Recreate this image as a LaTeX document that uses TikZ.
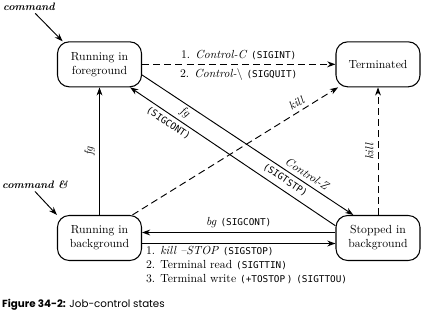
\documentclass[tikz,border=0pt]{standalone}
\usepackage{fontspec}
\setmonofont{DejaVu Sans Mono}[Scale=0.8]
\newfontfamily\capfont{Poppins}
\usetikzlibrary{arrows.meta}

\newcommand{\sig}[1]{\texttt{(#1)}}

\begin{document}
\begin{tikzpicture}[
  state/.style={
    draw, line width=0.9pt, rounded corners=10pt,
    minimum width=2.52cm, minimum height=1.35cm,
    align=center, inner sep=2pt
  },
  cmdtext/.style={font=\fontsize{9.2}{11}\selectfont\bfseries\itshape, inner sep=2pt},
  arr/.style={->, line width=0.8pt, >={Stealth[length=7pt, width=5pt]}},
  darr/.style={arr, dash pattern=on 6pt off 3.5pt},
]
\useasboundingbox (0,0) rectangle (12.78,-9.51);

%% States
\node[state] (fg)    at (2.985, -1.93) {Running in\\foreground};
\node[state] (term)  at (11.34, -1.93) {Terminated};
\node[state] (bg)    at (2.985, -7.14) {Running in\\background};
\node[state] (stop)  at (11.34, -7.14) {Stopped in\\background};

%% Shell commands
\node[cmdtext] (cmd)   at (0.87, -0.21) {command};
\node[cmdtext] (cmdbg) at (1.05, -5.55) {command \&};

%% Caption
\node[anchor=west, inner sep=0pt, font=\capfont\fontsize{8.8}{10}\selectfont]
  (caption) at (0.06, -9.15) {{\bfseries Figure 34-2:} Job-control states};

%% ── Arrows ──────────────────────────────────────────────

% Commands start a job
\draw[arr] (cmd) -- (fg.148);
\draw[arr] (cmdbg.south) -- (bg.north west);

% Foreground -> Terminated
\draw[darr] (fg.east) -- (term.west)
  node[midway, above] {1. \textit{Control-C} \sig{SIGINT}}
  node[midway, below] {2. \textit{Control-}\textbackslash\ \sig{SIGQUIT}};

% Background -> Foreground
\draw[arr] (bg.north) -- (fg.south)
  node[midway, sloped, above] {\textit{fg}};

% Stopped -> Terminated
\draw[darr] (stop.north) -- (term.south)
  node[midway, sloped, above] {\textit{kill}};

% Background -> Terminated
\draw[darr] (bg.35) -- (term.210)
  node[pos=0.82, sloped, above] {\textit{kill}};

% Foreground <-> Stopped
\draw[arr] (fg.-14) -- (stop.137)
  node[pos=0.76, sloped, above] {\textit{Control-Z}}
  node[pos=0.70, sloped, below] {\sig{SIGTSTP}};
\draw[arr] (stop.164) -- (fg.-37)
  node[pos=0.76, sloped, above] {\textit{fg}}
  node[pos=0.79, sloped, below] {\sig{SIGCONT}};

% Stopped <-> Background
\draw[arr] ([yshift=4.7pt]stop.west) -- ([yshift=4.7pt]bg.east)
  node[midway, above] {\textit{bg} \sig{SIGCONT}};
\draw[arr] ([yshift=-4.7pt]bg.east) -- ([yshift=-4.7pt]stop.west)
  node[pos=0, below right, align=left, inner sep=2pt, xshift=1pt] {%
    1. \textit{kill --STOP} \sig{SIGSTOP}\\
    2. Terminal read \sig{SIGTTIN}\\
    3. Terminal write \sig{+TOSTOP\,} \sig{SIGTTOU}};

\end{tikzpicture}
\end{document}
